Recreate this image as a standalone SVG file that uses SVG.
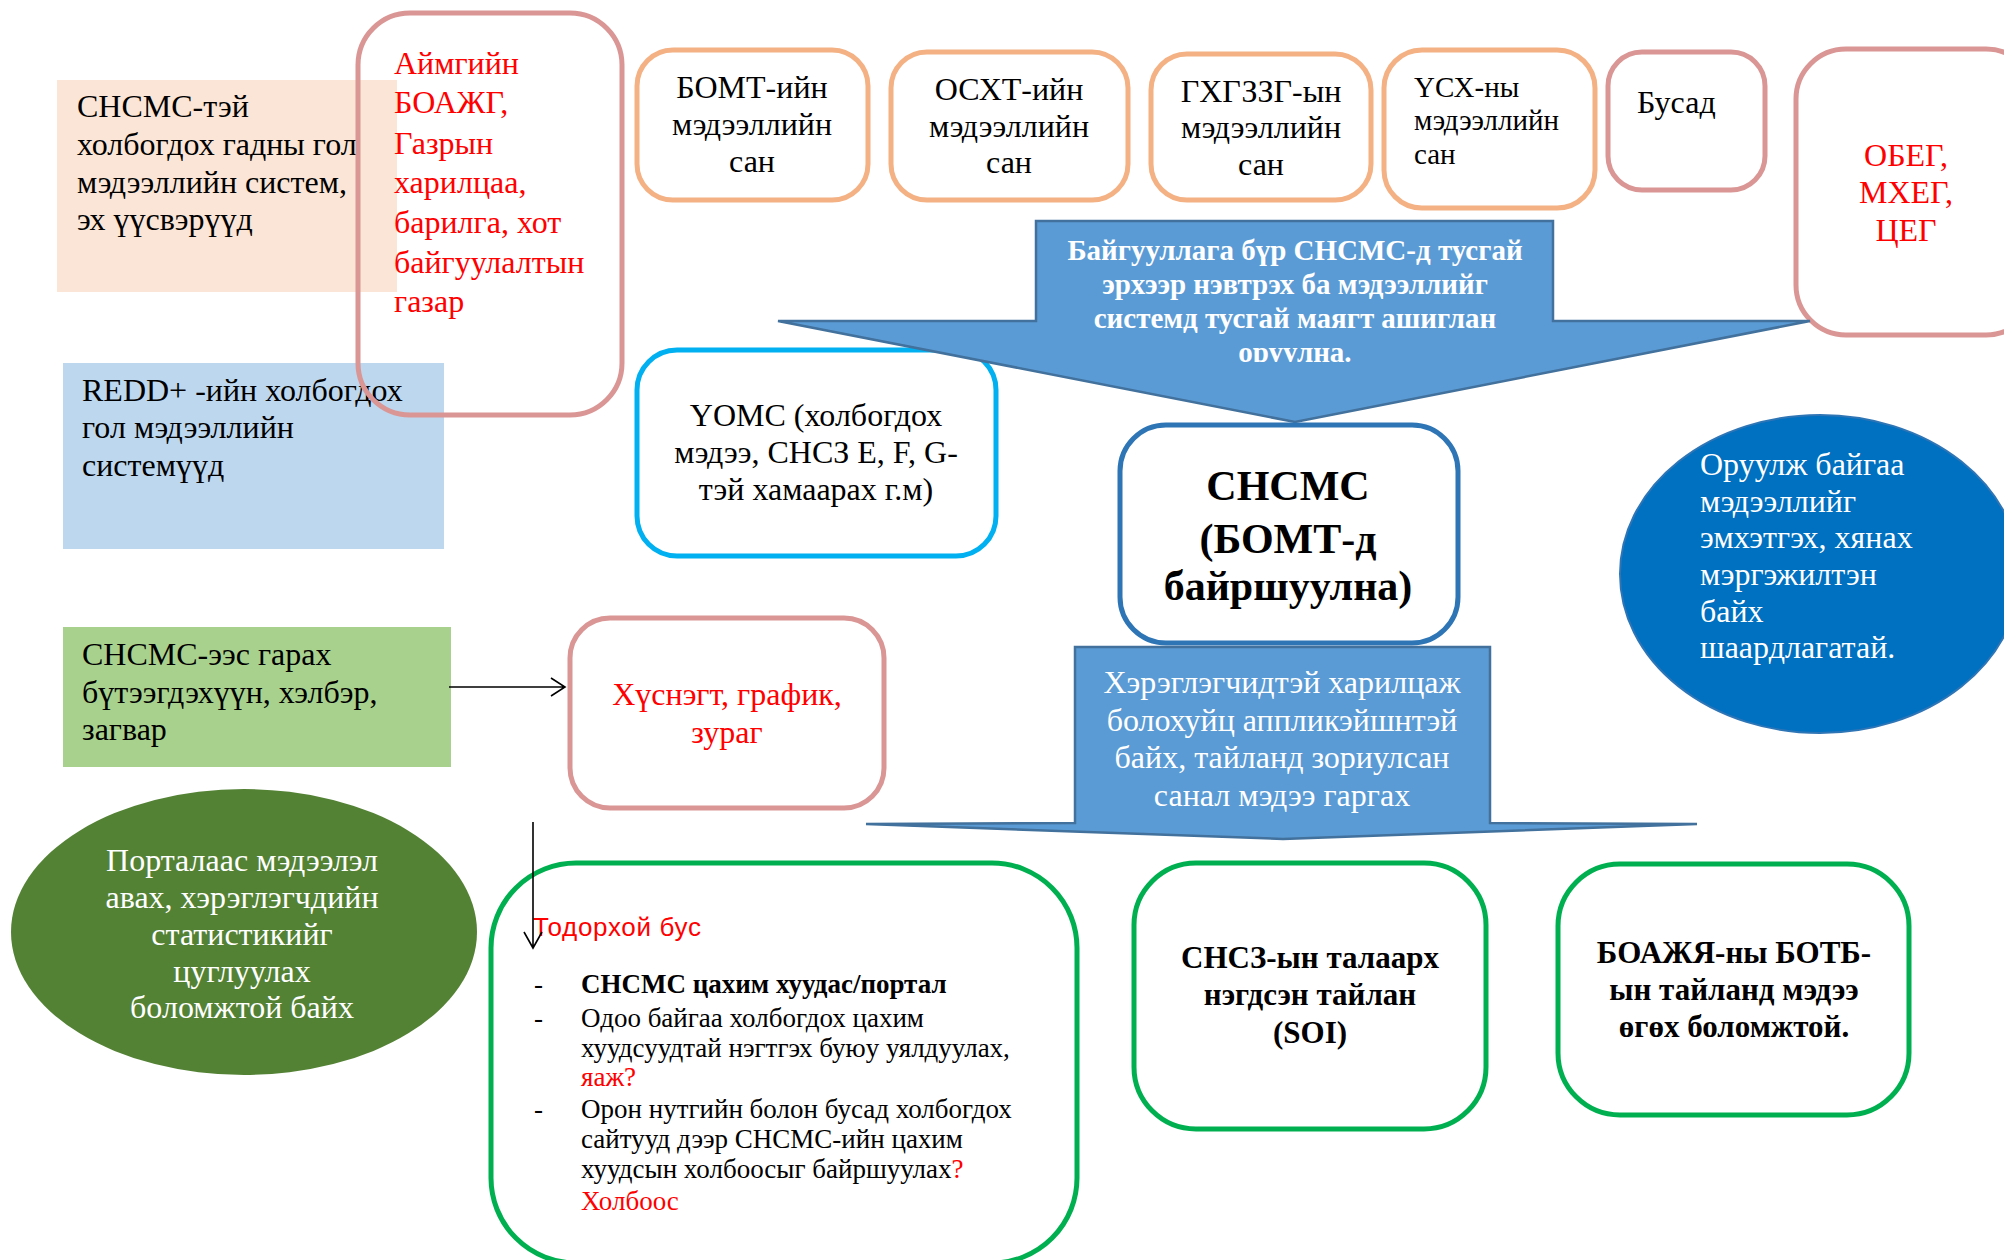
<svg xmlns="http://www.w3.org/2000/svg" width="2004" height="1260" viewBox="0 0 2004 1260">
<style>
.t{font-family:"Liberation Serif","Times New Roman",serif;font-size:32px;fill:#000}
.r{fill:#FF0000}
.w{fill:#FFFFFF}
.b{font-weight:bold}
.c{text-anchor:middle}
.pink{fill:none;stroke:#D99694;stroke-width:5}
.orng{fill:#FFFFFF;stroke:#F4B183;stroke-width:5}
.grn{fill:#FFFFFF;stroke:#00B050;stroke-width:5}
.call{fill:#5B9BD5;stroke:#41719C;stroke-width:2.5}
.ln{stroke:#000;stroke-width:1.6;fill:none}
</style>
<defs>
<clipPath id="cl1"><rect x="1036" y="221" width="517" height="141"/></clipPath>
</defs>
<rect width="2004" height="1260" fill="#FFFFFF"/>

<g id="ext-sources">
<rect x="57" y="80" width="340" height="212" fill="#FBE5D6"/>
<text class="t"><tspan x="77" y="117">СНСМС-тэй</tspan><tspan x="77" y="155">холбогдох гадны гол</tspan><tspan x="77" y="193">мэдээллийн систем,</tspan><tspan x="77" y="230">эх үүсвэрүүд</tspan></text>
</g>

<g id="redd">
<rect x="63" y="363" width="381" height="186" fill="#BDD7EE"/>
<text class="t"><tspan x="82" y="401">REDD+ -ийн холбогдох</tspan><tspan x="82" y="438">гол мэдээллийн</tspan><tspan x="82" y="476">системүүд</tspan></text>
</g>

<g id="aimag">
<rect x="358" y="13" width="264" height="402" rx="52" class="pink"/>
<text class="t r"><tspan x="394" y="74">Аймгийн</tspan><tspan x="394" y="113">БОАЖГ,</tspan><tspan x="394" y="154">Газрын</tspan><tspan x="394" y="193">харилцаа,</tspan><tspan x="394" y="233">барилга, хот</tspan><tspan x="394" y="273">байгуулалтын</tspan><tspan x="394" y="312">газар</tspan></text>
</g>

<g id="bomt">
<rect x="637" y="50" width="231" height="150" rx="36" class="orng"/>
<text class="t c"><tspan x="752" y="98">БОМТ-ийн</tspan><tspan x="752" y="135">мэдээллийн</tspan><tspan x="752" y="172">сан</tspan></text>
</g>
<g id="osxt">
<rect x="891" y="52" width="237" height="148" rx="36" class="orng"/>
<text class="t c"><tspan x="1009" y="100">ОСХТ-ийн</tspan><tspan x="1009" y="137">мэдээллийн</tspan><tspan x="1009" y="173">сан</tspan></text>
</g>
<g id="gxg">
<rect x="1151" y="54" width="220" height="146" rx="36" class="orng"/>
<text class="t c"><tspan x="1261" y="102">ГХГЗЗГ-ын</tspan><tspan x="1261" y="138">мэдээллийн</tspan><tspan x="1261" y="175">сан</tspan></text>
</g>
<g id="usx">
<rect x="1384" y="50" width="211" height="158" rx="38" class="orng"/>
<text class="t" style="font-size:29px"><tspan x="1414" y="97">ҮСХ-ны</tspan><tspan x="1414" y="130">мэдээллийн</tspan><tspan x="1414" y="164">сан</tspan></text>
</g>
<g id="busad">
<rect x="1608" y="52" width="157" height="138" rx="34" class="pink"/>
<text class="t" x="1637" y="113">Бусад</text>
</g>
<g id="obeg">
<rect x="1796" y="49" width="240" height="286" rx="50" class="pink" fill="#FFFFFF"/>
<text class="t r c"><tspan x="1906" y="166">ОБЕГ,</tspan><tspan x="1906" y="203">МХЕГ,</tspan><tspan x="1906" y="241">ЦЕГ</tspan></text>
</g>

<g id="uoms">
<rect x="637" y="350" width="359" height="206" rx="40" fill="#FFFFFF" stroke="#00B0F0" stroke-width="5"/>
<text class="t c"><tspan x="816" y="426">ҮОМС (холбогдох</tspan><tspan x="816" y="463">мэдээ, СНСЗ E, F, G-</tspan><tspan x="816" y="500">тэй хамаарах г.м)</tspan></text>
</g>

<g id="callout-top">
<polygon class="call" points="1036,221 1553,221 1553,321 1810,321 1295,422 778,321 1036,321"/>
<g clip-path="url(#cl1)">
<text class="t w b c" style="font-size:29px"><tspan x="1295" y="260">Байгууллага бүр СНСМС-д тусгай</tspan><tspan x="1295" y="294">эрхээр нэвтрэх ба мэдээллийг</tspan><tspan x="1295" y="328">системд тусгай маягт ашиглан</tspan><tspan x="1295" y="362">оруулна.</tspan></text>
</g>
</g>

<g id="snsms">
<rect x="1120" y="425" width="338" height="218" rx="46" fill="#FFFFFF" stroke="#2E75B6" stroke-width="5"/>
<text class="t b c" style="font-size:42px"><tspan x="1288" y="500">СНСМС</tspan><tspan x="1288" y="553">(БОМТ-д</tspan><tspan x="1288" y="600">байршуулна)</tspan></text>
</g>

<g id="callout-bottom">
<polygon class="call" points="1075,647 1490,647 1490,823 1697,824 1283,839 866,824 1075,823"/>
<text class="t w c"><tspan x="1282" y="693">Хэрэглэгчидтэй харилцаж</tspan><tspan x="1282" y="731">болохуйц аппликэйшнтэй</tspan><tspan x="1282" y="768">байх, тайланд зориулсан</tspan><tspan x="1282" y="806">санал мэдээ гаргах</tspan></text>
</g>

<g id="experts">
<ellipse cx="1820" cy="574" rx="200" ry="159" fill="#0070C0" stroke="#2E75B6" stroke-width="2"/>
<text class="t w"><tspan x="1700" y="475">Оруулж байгаа</tspan><tspan x="1700" y="512">мэдээллийг</tspan><tspan x="1700" y="548">эмхэтгэх, хянах</tspan><tspan x="1700" y="585">мэргэжилтэн</tspan><tspan x="1700" y="622">байх</tspan><tspan x="1700" y="658">шаардлагатай.</tspan></text>
</g>

<g id="products">
<rect x="63" y="627" width="388" height="140" fill="#A9D18E"/>
<text class="t"><tspan x="82" y="665">СНСМС-ээс гарах</tspan><tspan x="82" y="703">бүтээгдэхүүн, хэлбэр,</tspan><tspan x="82" y="740">загвар</tspan></text>
</g>

<g id="tables">
<rect x="570" y="618" width="314" height="190" rx="40" class="pink" fill="#FFFFFF"/>
<text class="t r c"><tspan x="727" y="705">Хүснэгт, график,</tspan><tspan x="727" y="743">зураг</tspan></text>
</g>

<g id="portal-stats">
<ellipse cx="244" cy="932" rx="233" ry="143" fill="#548235"/>
<text class="t w c"><tspan x="242" y="871">Порталаас мэдээлэл</tspan><tspan x="242" y="908">авах, хэрэглэгчдийн</tspan><tspan x="242" y="945">статистикийг</tspan><tspan x="242" y="982">цуглуулах</tspan><tspan x="242" y="1018">боломжтой байх</tspan></text>
</g>

<g id="portal">
<rect x="491" y="863" width="586" height="400" rx="85" class="grn"/>
<text x="533" y="936" textLength="168" style="font-family:'Liberation Sans',Arial,sans-serif;font-size:26px;fill:#FF0000">Тодорхой бус</text>
<g class="t" style="font-size:27px">
<text x="534" y="993">-</text><text x="534" y="1027">-</text><text x="534" y="1118">-</text>
<text class="t b" style="font-size:27px" x="581" y="993">СНСМС цахим хуудас/портал</text>
<text class="t" style="font-size:27px"><tspan x="581" y="1027">Одоо байгаа холбогдох цахим</tspan><tspan x="581" y="1057">хуудсуудтай нэгтгэх буюу уялдуулах,</tspan><tspan x="581" y="1086" fill="#FF0000">яаж?</tspan><tspan x="581" y="1118">Орон нутгийн болон бусад холбогдох</tspan><tspan x="581" y="1148">сайтууд дээр СНСМС-ийн цахим</tspan><tspan x="581" y="1178">хуудсын холбоосыг байршуулах<tspan fill="#FF0000">?</tspan></tspan><tspan x="581" y="1210" fill="#FF0000">Холбоос</tspan></text>
</g>
</g>

<g id="soi">
<rect x="1134" y="863" width="352" height="266" rx="62" class="grn"/>
<text class="t b c" style="font-size:31px"><tspan x="1310" y="968">СНСЗ-ын талаарх</tspan><tspan x="1310" y="1005">нэгдсэн тайлан</tspan><tspan x="1310" y="1043">(SOI)</tspan></text>
</g>

<g id="botb">
<rect x="1558" y="864" width="351" height="251" rx="62" class="grn"/>
<text class="t b c" style="font-size:31px"><tspan x="1734" y="963">БОАЖЯ-ны БОТБ-</tspan><tspan x="1734" y="1000">ын тайланд мэдээ</tspan><tspan x="1734" y="1037">өгөх боломжтой.</tspan></text>
</g>

<g id="connectors">
<path class="ln" d="M449,687 H565 M551,678 L565,687 L551,696"/>
<path class="ln" d="M533,822 V948 M524,932 L533,948 L542,932"/>
</g>
</svg>
